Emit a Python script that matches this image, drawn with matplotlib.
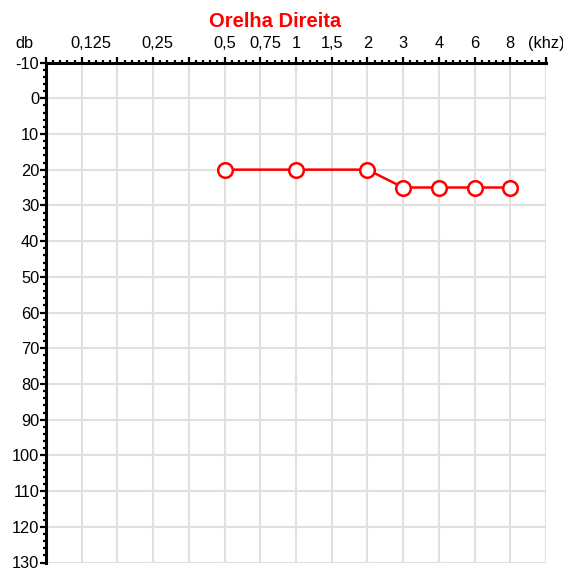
import matplotlib
matplotlib.use("Agg")
import matplotlib.pyplot as plt
from matplotlib.ticker import MultipleLocator
from matplotlib.transforms import blended_transform_factory, ScaledTranslation

plt.rcParams["font.family"] = ["Liberation Sans", "DejaVu Sans"]

# eixo de frequências (posições igualmente espaçadas, algumas sem rótulo)
freq_ticks = ["", "0,125", "", "0,25", "", "0,5", "0,75", "1", "1,5", "2", "3", "4", "6", "8", "(khz)"]
db_ticks = list(range(-10, 131, 10))

# limiares medidos - orelha direita
freqs = ["0,5", "1", "2", "3", "4", "6", "8"]
limiares = [20, 20, 20, 25, 25, 25, 25]

RED = "#ff0000"
FS = 11.8

fig = plt.figure(figsize=(5.63, 5.70), dpi=100)
ax = fig.add_axes([46 / 563, 1 - 562.5 / 570, 500 / 563, 500 / 570])

ax.set_xlim(0, len(freq_ticks) - 1)
ax.set_ylim(130, -10)

ax.xaxis.tick_top()
ax.set_xticks(range(len(freq_ticks)))
ax.set_xticklabels([])
ax.xaxis.set_minor_locator(MultipleLocator(0.2))
ax.set_yticks(db_ticks)
ax.set_yticklabels([str(v) for v in db_ticks], fontsize=FS)
ax.yaxis.set_minor_locator(MultipleLocator(2))

ax.tick_params(which="major", direction="out", length=4, width=1.6, color="black", pad=0.8)
ax.tick_params(which="minor", direction="out", length=2.3, width=1.6, color="black")

for s in ("right", "bottom"):
    ax.spines[s].set_visible(False)
for s in ("top", "left"):
    ax.spines[s].set_linewidth(2.2)

ax.grid(True, which="major", color="#e0e0e0", linewidth=1.5)
ax.set_axisbelow(True)

# rótulos do eixo superior: os decimais ficam alinhados pela vírgula
trans = blended_transform_factory(ax.transData, ax.transAxes)
up = 8 / 72
for i, lab in enumerate(freq_ticks):
    if not lab:
        continue
    if "," in lab:
        off = ScaledTranslation(-0.695 * FS / 72, up, fig.dpi_scale_trans)
        ax.text(i, 1, lab, transform=trans + off, ha="left", va="bottom", fontsize=FS)
    else:
        off = ScaledTranslation(0, up, fig.dpi_scale_trans)
        ax.text(i, 1, lab, transform=trans + off, ha="center", va="bottom", fontsize=FS)
off = ScaledTranslation(0, up, fig.dpi_scale_trans)
ax.text(-0.59, 1, "db", transform=trans + off, ha="center", va="bottom", fontsize=FS)

xs = [freq_ticks.index(f) for f in freqs]
ax.plot(xs, limiares, color=RED, linewidth=1.8, marker="o", markersize=10.5,
        markerfacecolor="white", markeredgecolor=RED, markeredgewidth=1.8,
        clip_on=False, zorder=3)

fig.text(275 / 563, 1 - 27 / 570, "Orelha Direita", color=RED, fontsize=14.5,
         fontweight="bold", ha="center", va="baseline")

fig.savefig("out.png", dpi=100)
